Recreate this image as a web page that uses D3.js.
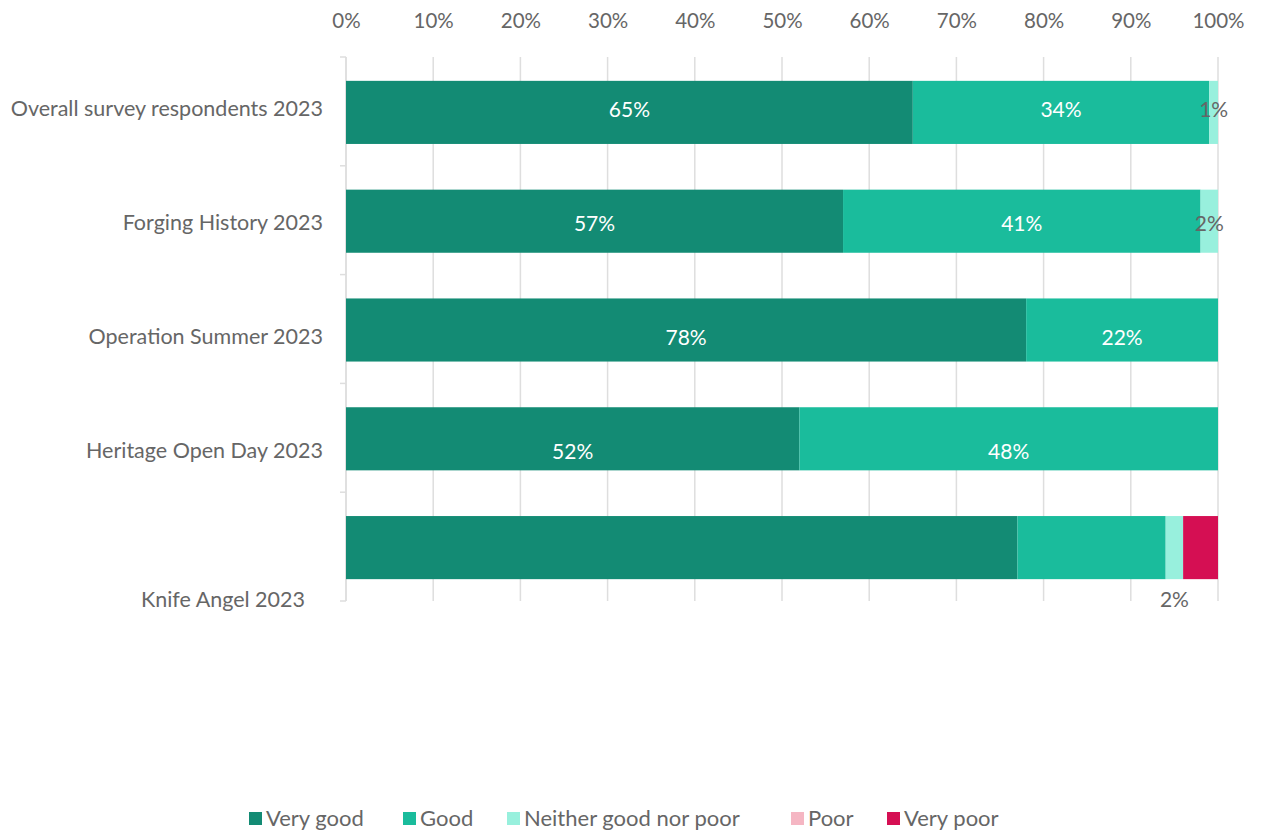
<!DOCTYPE html>
<html>
<head>
<meta charset="utf-8">
<script src="https://cdn.jsdelivr.net/npm/d3@7"></script>
<style>
  html, body { margin: 0; padding: 0; background: #ffffff; }
  svg { display: block; font-family: Lato, "Open Sans", sans-serif; }
</style>
</head>
<body>
<svg id="chart" width="1262" height="834"></svg>
<script>
// Rating share (%) per event
const categories = [
  "Overall survey respondents 2023",
  "Forging History 2023",
  "Operation Summer 2023",
  "Heritage Open Day 2023",
  "Knife Angel 2023"
];
const seriesNames = ["Very good", "Good", "Neither good nor poor", "Poor", "Very poor"];
const veryGood = [65, 57, 78, 52, 77];
const good     = [34, 41, 22, 48, 17];
const neither  = [1, 2, 0, 0, 2];
const poor     = [0, 0, 0, 0, 0];
const veryPoor = [0, 0, 0, 0, 4];
const seriesColors = ["#138b74", "#1abc9c", "#98f0dd", "#f5b6c3", "#d50f53"];
const tickValues = [0, 10, 20, 30, 40, 50, 60, 70, 80, 90, 100];
// Which series carry a data label on the Knife Angel row
const knifeLabelled = ["Neither good nor poor"];

const seriesValues = [veryGood, good, neither, poor, veryPoor];
const rows = categories.map((c, i) => {
  const r = { category: c };
  seriesNames.forEach((s, k) => { r[s] = seriesValues[k][i]; });
  return r;
});

const svg = d3.select("#chart");
const plot = { left: 346, right: 1218, top: 57, bottom: 601 };
const textGrey = "#666666";
const gridGrey = "#dedede";

const x = d3.scaleLinear().domain([0, 100]).range([plot.left, plot.right]);
const y = d3.scaleBand().domain(categories).range([plot.top + 1, plot.bottom + 1]).paddingInner(0.42).paddingOuter(0.21);
// Label rows sit on a slightly taller band than the bars
const yLabel = d3.scaleBand().domain(categories).range([plot.top - 5, plot.bottom + 21]);

// Vertical gridlines
svg.append("g")
  .selectAll("line")
  .data(tickValues)
  .join("line")
  .attr("x1", d => x(d)).attr("x2", d => x(d))
  .attr("y1", plot.top).attr("y2", plot.bottom)
  .attr("stroke", gridGrey).attr("stroke-width", 1.5);

// Top percentage axis
const xAxis = d3.axisTop(x).tickValues(tickValues).tickFormat(d => d + "%").tickSize(0).tickPadding(0);
const gx = svg.append("g").attr("transform", "translate(0,28)").call(xAxis);
gx.select(".domain").remove();
gx.selectAll("text")
  .attr("fill", textGrey).attr("font-size", 20.5).attr("dy", 0)
  .attr("font-family", "Lato, sans-serif");

// Left category axis line with band separators
svg.append("line")
  .attr("x1", plot.left).attr("x2", plot.left)
  .attr("y1", plot.top).attr("y2", plot.bottom)
  .attr("stroke", gridGrey).attr("stroke-width", 1.5);
svg.append("g")
  .selectAll("line")
  .data(d3.range(categories.length + 1))
  .join("line")
  .attr("x1", plot.left - 6).attr("x2", plot.left)
  .attr("y1", i => plot.top + i * (plot.bottom - plot.top) / categories.length)
  .attr("y2", i => plot.top + i * (plot.bottom - plot.top) / categories.length)
  .attr("stroke", gridGrey).attr("stroke-width", 1.5);

// Stacked bars
const stack = d3.stack().keys(seriesNames);
const stacked = stack(rows);
const layers = svg.append("g")
  .selectAll("g")
  .data(stacked)
  .join("g")
  .attr("fill", (d, i) => seriesColors[i]);
layers.selectAll("rect")
  .data(d => d.filter(p => p[1] > p[0]))
  .join("rect")
  .attr("x", d => x(d[0]))
  .attr("width", d => x(d[1]) - x(d[0]))
  .attr("y", d => y(d.data.category))
  .attr("height", y.bandwidth());

// Data labels
const lastCat = categories[categories.length - 1];
const labels = [];
stacked.forEach((layer, k) => {
  layer.forEach(p => {
    const v = p[1] - p[0];
    if (v <= 0) return;
    const cat = p.data.category;
    if (cat === lastCat && !knifeLabelled.includes(layer.key)) return;
    labels.push({
      text: v + "%",
      cx: x((p[0] + p[1]) / 2),
      cy: cat === lastCat ? y(cat) + y.bandwidth() + 20 : yLabel(cat) + yLabel.bandwidth() / 2,
      fill: k < 2 ? "#ffffff" : textGrey
    });
  });
});
svg.append("g")
  .selectAll("text")
  .data(labels)
  .join("text")
  .attr("x", d => d.cx)
  .attr("y", d => d.cy)
  .attr("dy", "0.36em")
  .attr("text-anchor", "middle")
  .attr("font-size", 21)
  .attr("fill", d => d.fill)
  .text(d => d.text);

// Category labels
svg.append("g")
  .selectAll("text")
  .data(categories)
  .join("text")
  .attr("x", d => d === lastCat ? plot.left - 41 : plot.left - 23)
  .attr("y", d => d === lastCat ? plot.bottom - 2 : yLabel(d) + yLabel.bandwidth() / 2 - 1)
  .attr("dy", "0.35em")
  .attr("text-anchor", "end")
  .attr("font-size", 21.5)
  .attr("fill", textGrey)
  .text(d => d);

// Legend
const legendX = [249, 403, 507, 791, 887];
const legend = svg.append("g")
  .selectAll("g")
  .data(seriesNames)
  .join("g")
  .attr("transform", (d, i) => `translate(${legendX[i]},812)`);
legend.append("rect")
  .attr("width", 13).attr("height", 13)
  .attr("fill", (d, i) => seriesColors[i]);
legend.append("text")
  .attr("x", 17).attr("y", 14)
  .attr("font-size", 22)
  .attr("fill", textGrey)
  .text(d => d);
</script>
</body>
</html>
